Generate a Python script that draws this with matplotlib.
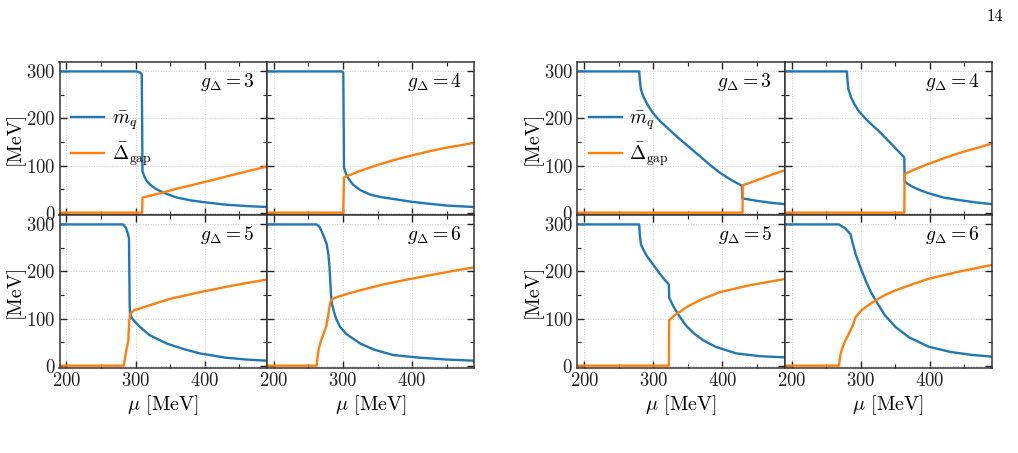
import numpy as np
import matplotlib
matplotlib.use('Agg')
import matplotlib.pyplot as plt
from matplotlib.ticker import MultipleLocator

plt.rcParams['font.family'] = 'serif'
plt.rcParams['font.serif'] = ['cmr10', 'DejaVu Serif']
plt.rcParams['mathtext.fontset'] = 'cm'
plt.rcParams['axes.formatter.use_mathtext'] = True
plt.rcParams['font.size'] = 13

blue = '#1f77b4'
orange = '#ff7f0e'

# ---- left group ##############################################################
# g = 3
mu_mq_a = [190, 300, 304, 307, 309, 309.5, 310, 313, 316, 320, 325, 330, 340, 350, 360, 380, 400, 430, 460, 490]
mq_a = [300, 300, 299, 297, 294, 200, 88, 76, 68, 61, 55, 50, 43, 37, 32, 26, 22, 17, 14, 12]
mu_dg_a = [190, 309.5, 310, 335, 360, 400, 440, 490]
dg_a = [0, 0, 32, 41, 51, 65, 80, 98]

# g = 4
mu_mq_b = [190, 298, 300.5, 301, 301.5, 305, 310, 315, 325, 340, 355, 373, 400, 421, 450, 490]
mq_b = [300, 300, 298, 200, 96, 80, 68, 59, 48, 38, 33, 29, 23, 19.5, 15, 12]
mu_dg_b = [190, 300.5, 301, 301.5, 305.8, 325, 349.2, 373.3, 397.4, 421.5, 445.6, 490]
dg_b = [0, 0, 40, 75, 77.4, 88.8, 100.8, 111.5, 120.7, 129.2, 137, 148.3]

# g = 5
mu_mq_c = [190, 282, 286, 289, 290.5, 291, 291.5, 292, 295, 300, 306.5, 320, 345, 370, 393, 430, 460, 490]
mq_c = [300, 300, 293, 280, 270, 200, 130, 110, 100, 92, 82, 65, 47, 35, 26, 17, 13, 10.5]
mu_dg_c = [190, 283, 287, 289.6, 290, 291, 292, 297, 320, 350, 393, 440, 490]
dg_c = [0, 0, 35, 54, 70, 95, 109, 117, 128, 142, 156, 170, 183]

# g = 6
mu_mq_d = [190, 262, 266, 269, 273, 276.5, 279, 280.6, 282.6, 284, 286.5, 290, 296, 305, 325, 345, 373, 410, 450, 490]
mq_d = [300, 300, 295, 286, 272, 258, 235, 209, 153, 132, 117, 100, 82, 67, 47, 34, 22.5, 17, 13, 10.5]
mu_dg_d = [190, 262, 263, 264.6, 268, 272, 276, 279, 281.7, 284, 291.4, 305, 325, 360, 397, 440, 490]
dg_d = [0, 0, 15, 33, 52, 68, 84, 110, 135, 141, 145.5, 152, 160, 173, 184, 196, 209]

# ---- right group #############################################################
# g = 3
mu_mq_e = [190, 279.6, 280.3, 282, 286, 292, 299.8, 310, 324, 336, 348, 360, 372, 384, 396, 412, 428, 428.6, 430, 450, 470, 490]
mq_e = [300, 300, 285, 262, 245, 228, 211, 194, 175, 159, 144, 129, 114, 99, 85, 70, 57, 30, 30, 25, 21, 18]
mu_dg_e = [190, 429, 429.3, 450, 470, 490]
dg_e = [0, 0, 58, 69, 80, 90]

# g = 4
mu_mq_f = [190, 280, 280.6, 282, 286, 291, 298, 310, 327, 345, 363, 363.4, 367, 375.4, 387, 399.5, 420, 443, 465, 490]
mq_f = [300, 300, 285, 263, 245, 230, 214, 195, 172, 145, 117, 67.5, 62, 54.7, 47, 40.6, 32, 26.6, 22, 18]
mu_dg_f = [190, 363, 363.4, 375, 399.5, 425, 447.7, 470, 490]
dg_f = [0, 0, 81.7, 90, 104.5, 118, 129, 138, 147]

# g = 5
mu_mq_g = [190, 279.6, 280.3, 282, 286, 290.3, 300, 309.5, 316, 322.5, 322.9, 326, 330, 338.4, 348, 360, 372, 390, 420, 455, 490]
mq_g = [300, 300, 280, 258, 245, 233.5, 214, 195, 183, 172.3, 144, 135, 123, 103.4, 84, 67, 54, 40, 26, 20, 17.6]
mu_dg_g = [190, 322.5, 322.9, 330, 348, 370, 396, 440, 490]
dg_g = [0, 0, 96.4, 106, 124.4, 141, 156, 171, 184]

# g = 6
mu_mq_h = [190, 268.5, 278, 285.3, 288, 292.6, 300, 307, 314, 321.5, 335, 350.4, 370, 398.6, 430, 460, 490]
mq_h = [300, 300, 291, 279, 262, 237, 207, 181, 158, 138.6, 107, 82, 60, 40, 29, 23, 19]
mu_dg_h = [190, 268.5, 269.5, 271, 274, 278, 285.3, 288, 292.6, 300, 307, 321.5, 335, 350.4, 375, 398.6, 440, 490]
dg_h = [0, 0, 12, 26, 40, 54, 75, 84, 103, 116, 124.4, 138.6, 150, 160, 173, 184.6, 199, 214]

g_labels = ['3', '4', '5', '6']

groups = [
    [(mu_mq_a, mq_a, mu_dg_a, dg_a), (mu_mq_b, mq_b, mu_dg_b, dg_b),
     (mu_mq_c, mq_c, mu_dg_c, dg_c), (mu_mq_d, mq_d, mu_dg_d, dg_d)],
    [(mu_mq_e, mq_e, mu_dg_e, dg_e), (mu_mq_f, mq_f, mu_dg_f, dg_f),
     (mu_mq_g, mq_g, mu_dg_g, dg_g), (mu_mq_h, mq_h, mu_dg_h, dg_h)],
]

fig = plt.figure(figsize=(10.18, 4.53), dpi=100)

W = 1018.0
H = 453.0
panel_w = 207.4 / W
panel_h = 153.0 / H
lefts = [59.5 / W, 577.3 / W]
top = 1 - 62.0 / H

for gi, group in enumerate(groups):
    for k, (mu_mq, mq, mu_dg, dg) in enumerate(group):
        row = k // 2
        col = k % 2
        ax = fig.add_axes([lefts[gi] + col * panel_w, top - (row + 1) * panel_h, panel_w, panel_h])
        ax.plot(mu_mq, mq, color=blue, lw=1.7, label=r'$\bar{m}_q$')
        ax.plot(mu_dg, dg, color=orange, lw=1.7, label=r'$\bar{\Delta}_{\rm gap}$')
        ax.set_xlim(190, 490)
        ax.set_ylim(-5, 320)
        ax.xaxis.set_major_locator(MultipleLocator(100))
        ax.xaxis.set_minor_locator(MultipleLocator(50))
        ax.yaxis.set_major_locator(MultipleLocator(100))
        ax.yaxis.set_minor_locator(MultipleLocator(50))
        ax.tick_params(which='both', direction='in', top=True, right=True, colors='#222222', labelsize=13.5)
        ax.tick_params(which='major', length=5, width=1.0, pad=3)
        ax.tick_params(which='minor', length=3, width=0.8)
        ax.grid(True, which='major', ls=':', lw=0.7, color='#cccccc')
        for sp in ax.spines.values():
            sp.set_linewidth(1.1)
            sp.set_color('#333333')
        ax.text(0.94, 0.87, r'$g_\Delta = ' + g_labels[k] + '$', transform=ax.transAxes,
                ha='right', va='center', fontsize=14)
        if col == 0:
            ax.set_ylabel('[MeV]', fontsize=14.5, labelpad=1)
        else:
            ax.set_yticklabels([])
        if row == 1:
            ax.set_xlabel(r'$\mu$ [MeV]', fontsize=14.5, labelpad=2)
        else:
            ax.set_xticklabels([])
        if k == 0:
            ax.legend(loc='center left', bbox_to_anchor=(-0.03, 0.5), frameon=False,
                      handlelength=1.7, handletextpad=0.4, labelspacing=0.45, fontsize=14)

fig.text(0.985, 0.965, '14', ha='right', va='center', fontsize=12)

plt.savefig('out.png', dpi=100)
